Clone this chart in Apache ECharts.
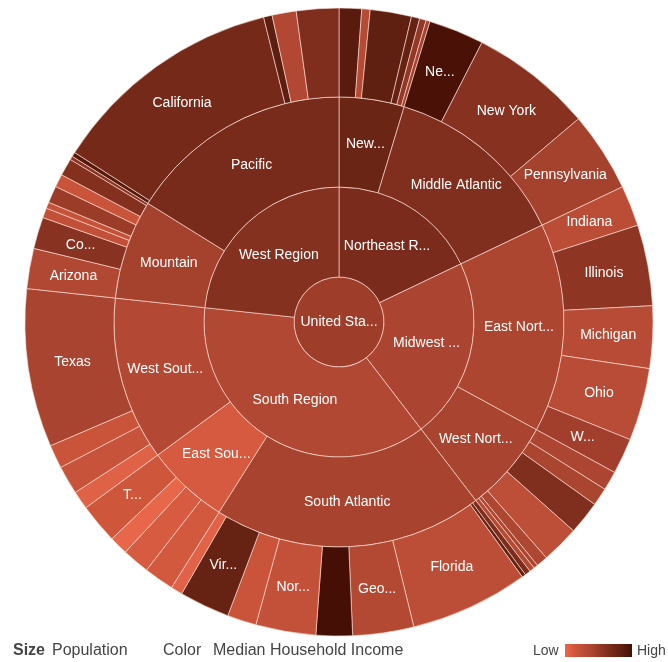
<!DOCTYPE html>
<html><head><meta charset="utf-8">
<script src="https://cdn.jsdelivr.net/npm/echarts/dist/echarts.min.js"></script>
<style>html,body{margin:0;padding:0;background:#fff}#c{width:668px;height:662px}</style>
</head><body><div id="c"></div>
<script>
// ---------- DATA ----------
const rootName = 'United States';
const regionNames = ['Northeast Region', 'Midwest Region', 'South Region', 'West Region'];
const divisionNames = ['New England', 'Middle Atlantic', 'East North Central', 'West North Central',
  'South Atlantic', 'East South Central', 'West South Central', 'Mountain', 'Pacific'];
const divisionRegion = [0, 0, 1, 1, 2, 2, 2, 3, 3];

const stateNames = [
  'Connecticut', 'Maine', 'Massachusetts', 'New Hampshire', 'Rhode Island', 'Vermont',
  'New Jersey', 'New York', 'Pennsylvania',
  'Indiana', 'Illinois', 'Michigan', 'Ohio', 'Wisconsin',
  'Iowa', 'Kansas', 'Minnesota', 'Missouri', 'Nebraska', 'North Dakota', 'South Dakota',
  'Delaware', 'District of Columbia', 'Florida', 'Georgia', 'Maryland', 'North Carolina', 'South Carolina', 'Virginia', 'West Virginia',
  'Alabama', 'Kentucky', 'Mississippi', 'Tennessee',
  'Arkansas', 'Louisiana', 'Oklahoma', 'Texas',
  'Arizona', 'Colorado', 'Idaho', 'Montana', 'Nevada', 'New Mexico', 'Utah', 'Wyoming',
  'Alaska', 'California', 'Hawaii', 'Oregon', 'Washington'
];
const stateDivision = [
  0, 0, 0, 0, 0, 0,
  1, 1, 1,
  2, 2, 2, 2, 2,
  3, 3, 3, 3, 3, 3, 3,
  4, 4, 4, 4, 4, 4, 4, 4, 4,
  5, 5, 5, 5,
  6, 6, 6, 6,
  7, 7, 7, 7, 7, 7, 7, 7,
  8, 8, 8, 8, 8
];
// population (millions)
const statePopulation = [
  3.574, 1.328, 6.548, 1.316, 1.053, 0.626,
  8.792, 19.378, 12.702,
  6.484, 12.831, 9.884, 11.537, 5.687,
  3.046, 2.853, 5.304, 5.989, 1.826, 0.673, 0.814,
  0.898, 0.602, 18.801, 9.688, 5.774, 9.535, 4.625, 8.001, 1.853,
  4.780, 4.339, 2.967, 6.346,
  2.916, 4.533, 3.751, 25.146,
  6.392, 5.029, 1.568, 0.989, 2.701, 2.059, 2.764, 0.564,
  0.710, 37.254, 1.360, 3.831, 6.725
];
// median household income (USD)
const stateIncome = [
  64032, 45815, 62072, 61042, 52254, 49406,
  67681, 54148, 49288,
  44613, 52972, 45413, 45090, 49993,
  47961, 48257, 55459, 44301, 47357, 47827, 45904,
  55847, 60903, 44409, 46430, 68854, 43326, 42018, 60674, 38218,
  40474, 40062, 36851, 41461,
  38307, 42505, 42072, 48615,
  46789, 54046, 43490, 42666, 51001, 42090, 54744, 53802,
  64576, 57708, 63030, 46560, 55631
];
// labels as they are displayed (others are too small to show)
const shownLabels = {
  'United States': 'United Sta...',
  'Northeast Region': 'Northeast R...', 'Midwest Region': 'Midwest ...',
  'South Region': 'South Region', 'West Region': 'West Region',
  'New England': 'New...', 'Middle Atlantic': 'Middle Atlantic', 'East North Central': 'East Nort...',
  'West North Central': 'West Nort...', 'South Atlantic': 'South Atlantic', 'East South Central': 'East Sou...',
  'West South Central': 'West Sout...', 'Mountain': 'Mountain', 'Pacific': 'Pacific',
  'New Jersey': 'Ne...', 'New York': 'New York', 'Pennsylvania': 'Pennsylvania',
  'Indiana': 'Indiana', 'Illinois': 'Illinois', 'Michigan': 'Michigan', 'Ohio': 'Ohio', 'Wisconsin': 'W...',
  'Florida': 'Florida', 'Georgia': 'Geo...', 'North Carolina': 'Nor...', 'Virginia': 'Vir...',
  'Tennessee': 'T...', 'Texas': 'Texas', 'Arizona': 'Arizona', 'Colorado': 'Co...', 'California': 'California'
};

// ---------- COLOR SCALE ----------
const incomeStops = [37000, 41000, 45000, 49000, 53500, 58000, 63000, 69000];
const colorStops = ['#e8674b', '#d0573c', '#b94c36', '#a7432f', '#8b3322', '#722818', '#5c1e10', '#450f05'];
function hex(c) { return [1, 3, 5].map(i => parseInt(c.substr(i, 2), 16)); }
function colorFor(v) {
  if (v <= incomeStops[0]) return colorStops[0];
  for (let i = 1; i < incomeStops.length; i++) {
    if (v <= incomeStops[i]) {
      const t = (v - incomeStops[i - 1]) / (incomeStops[i] - incomeStops[i - 1]);
      const a = hex(colorStops[i - 1]), b = hex(colorStops[i]);
      return 'rgb(' + a.map((x, k) => Math.round(x + (b[k] - x) * t)).join(',') + ')';
    }
  }
  return colorStops[colorStops.length - 1];
}

// ---------- BUILD TREE ----------
function weighted(idx) {
  let s = 0, p = 0;
  idx.forEach(i => { s += stateIncome[i] * statePopulation[i]; p += statePopulation[i]; });
  return s / p;
}
function node(name, income, extra) {
  const n = Object.assign({ name: name, itemStyle: { color: colorFor(income) } }, extra);
  if (shownLabels[name]) n.label = { show: true, formatter: shownLabels[name] };
  else n.label = { show: false };
  return n;
}
const allIdx = stateNames.map((_, i) => i);
const tree = [node(rootName, weighted(allIdx), {
  children: regionNames.map((rn, r) => {
    const divs = divisionNames.map((_, d) => d).filter(d => divisionRegion[d] === r);
    const rIdx = allIdx.filter(i => divisionRegion[stateDivision[i]] === r);
    return node(rn, weighted(rIdx), {
      children: divs.map(d => {
        const dIdx = allIdx.filter(i => stateDivision[i] === d);
        return node(divisionNames[d], weighted(dIdx), {
          children: dIdx.map(i => node(stateNames[i], stateIncome[i], { value: statePopulation[i] }))
        });
      })
    });
  })
})];

const chart = echarts.init(document.getElementById('c'), null, { renderer: 'canvas' });
const txt = '#444';
chart.setOption({
  animation: false,
  series: [{
    type: 'sunburst',
    center: [339, 322],
    radius: [0, 314],
    sort: null,
    startAngle: 90,
    nodeClick: false,
    emphasis: { disabled: true },
    data: tree,
    itemStyle: { borderColor: 'rgba(255,225,215,0.6)', borderWidth: 1 },
    label: {
      rotate: 0,
      color: '#fff',
      fontSize: 14,
      fontFamily: 'Liberation Sans, Arial, sans-serif'
    },
    levels: [
      {},
      { r0: 0, r: 45 },
      { r0: 45, r: 135 },
      { r0: 135, r: 225 },
      { r0: 225, r: 314 }
    ]
  }],
  graphic: [
    { type: 'text', left: 13, top: 643, style: { text: 'Size', font: 'bold 16px Liberation Sans, Arial', fill: txt } },
    { type: 'text', left: 52, top: 643, style: { text: 'Population', font: '16px Liberation Sans, Arial', fill: txt } },
    { type: 'text', left: 163, top: 643, style: { text: 'Color', font: '16px Liberation Sans, Arial', fill: txt } },
    { type: 'text', left: 213, top: 643, style: { text: 'Median Household Income', font: '16px Liberation Sans, Arial', fill: txt } },
    { type: 'text', left: 533, top: 644, style: { text: 'Low', font: '14px Liberation Sans, Arial', fill: txt } },
    { type: 'rect', left: 565, top: 644, shape: { width: 67, height: 13 },
      style: { fill: new echarts.graphic.LinearGradient(0, 0, 1, 0,
        colorStops.map((c, i) => ({ offset: i / (colorStops.length - 1), color: c }))) } },
    { type: 'text', left: 637, top: 644, style: { text: 'High', font: '14px Liberation Sans, Arial', fill: txt } }
  ]
});
</script></body></html>
